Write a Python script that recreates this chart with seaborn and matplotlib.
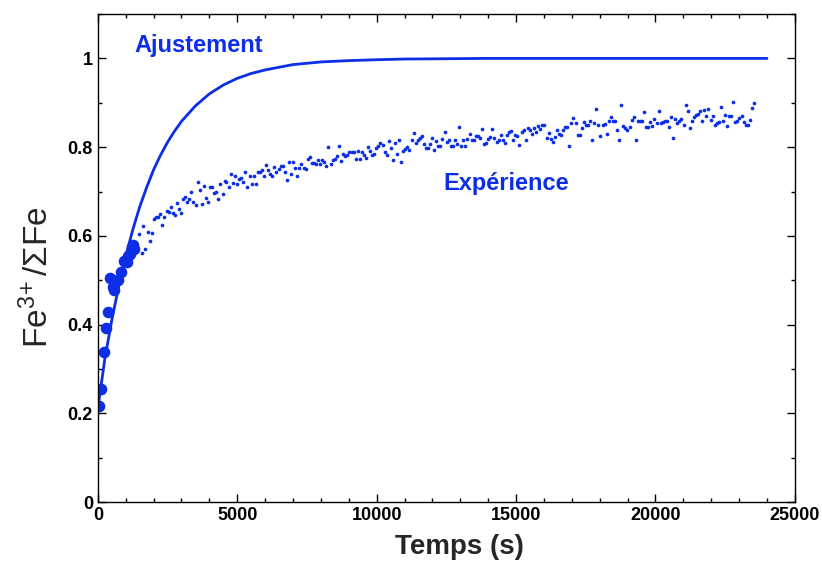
import matplotlib
matplotlib.use("Agg")
import matplotlib.pyplot as plt
from matplotlib.ticker import MultipleLocator
import seaborn as sns
import pandas as pd

# early measurements (large markers)
big_t = [50, 130, 230, 300, 370, 440, 560, 575, 730, 815, 945, 1030, 1100, 1150, 1210, 1260, 1300]
big_y = [0.217, 0.255, 0.338, 0.392, 0.429, 0.505, 0.485, 0.479, 0.50, 0.518, 0.543, 0.541,
         0.555, 0.56, 0.575, 0.579, 0.571]

# later measurements (small dots)
small_t = [1482, 1567, 1638, 1710, 1793, 1865, 1937, 2009, 2080, 2152, 2235, 2307, 2378, 2464,
           2536, 2607, 2679, 2751, 2834, 2905, 2977, 3060, 3131, 3203, 3275, 3347, 3418, 3504,
           3576, 3648, 3719, 3802, 3874, 3945, 4017, 4089, 4172, 4243, 4315, 4400, 4472, 4544,
           4615, 4687, 4770, 4842, 4914, 4986, 5057,
           5153, 5212, 5283, 5355, 5441, 5513, 5585, 5667, 5739, 5811, 5882, 5954, 6026, 6108,
           6180, 6252, 6324, 6395, 6481, 6553, 6625, 6707, 6779, 6851, 6923, 7005, 7077, 7149,
           7221, 7292, 7378, 7450, 7522, 7593, 7665, 7748, 7819, 7891, 7963, 8045, 8117, 8189,
           8260, 8346, 8418, 8490, 8562, 8633,
           8727, 8799, 8870, 8942, 9014, 9099, 9171, 9243, 9315, 9386, 9469, 9541, 9613, 9684,
           9756, 9839, 9910, 9982, 10054, 10126, 10211, 10283, 10355, 10427, 10499, 10581,
           10653, 10725, 10796, 10868, 10951, 11022, 11094, 11166, 11252, 11324, 11395, 11467,
           11539, 11621, 11693, 11765, 11836, 11908, 11991, 12063, 12134, 12206,
           12278, 12350, 12435, 12507, 12579, 12651, 12722, 12805, 12877, 12949, 13031, 13103,
           13175, 13246, 13332, 13404, 13475, 13547, 13619, 13702, 13773, 13845, 13917, 14000,
           14071, 14143, 14215, 14300, 14372, 14444, 14527, 14598, 14670, 14742, 14814, 14896,
           14968, 15040, 15112, 15197, 15269, 15341, 15413, 15495, 15567, 15638, 15710, 15793,
           15865, 15937, 16008, 16094, 16166, 16237, 16309, 16392, 16463, 16535, 16607, 16679,
           16761, 16833, 16905, 16977, 17049, 17134, 17206, 17278, 17349, 17421, 17504, 17575,
           17647, 17719, 17801, 17873, 17945, 18017, 18102, 18174, 18246, 18329, 18401, 18472,
           18544, 18616, 18699, 18771, 18843, 18915, 18987, 19071, 19143, 19215, 19286, 19358,
           19440, 19512, 19584, 19667, 19739, 19810,
           19882, 19953, 20039, 20111, 20182, 20254, 20337, 20409, 20481, 20552, 20635, 20707,
           20779, 20850, 20922, 21008, 21079, 21151, 21223, 21306, 21377, 21449, 21521, 21593,
           21675, 21747, 21819, 21891, 21976, 22048, 22120, 22191, 22263, 22346, 22418, 22489,
           22572, 22644, 22716, 22787, 22859, 22931, 23014, 23086, 23158, 23230, 23302, 23386,
           23458, 23529]
small_y = [0.604, 0.562, 0.623, 0.571, 0.608, 0.589, 0.607, 0.639, 0.643, 0.643, 0.650, 0.625,
           0.643, 0.656, 0.654, 0.665, 0.652, 0.646, 0.675, 0.661, 0.652, 0.682, 0.687, 0.676,
           0.682, 0.699, 0.676, 0.669, 0.721, 0.703, 0.671, 0.712, 0.686, 0.676, 0.710, 0.710,
           0.697, 0.699, 0.682, 0.716, 0.695, 0.724, 0.721, 0.710, 0.739, 0.719, 0.734, 0.718,
           0.729,
           0.731, 0.722, 0.743, 0.710, 0.734, 0.718, 0.735, 0.718, 0.745, 0.745, 0.749, 0.734,
           0.759, 0.748, 0.739, 0.735, 0.755, 0.745, 0.751, 0.758, 0.758, 0.745, 0.727, 0.766,
           0.739, 0.767, 0.754, 0.736, 0.752, 0.763, 0.754, 0.750, 0.773, 0.777, 0.764, 0.765,
           0.763, 0.770, 0.763, 0.770, 0.766, 0.757, 0.800, 0.763, 0.770, 0.773, 0.781, 0.802,
           0.768, 0.785, 0.781, 0.783, 0.788, 0.789, 0.789, 0.773, 0.791, 0.773, 0.788, 0.783,
           0.776, 0.801, 0.791, 0.783, 0.784, 0.797, 0.802, 0.809, 0.805, 0.788, 0.783, 0.814,
           0.797, 0.771, 0.809, 0.785, 0.817, 0.767, 0.792, 0.796, 0.800, 0.793, 0.817, 0.831,
           0.809, 0.815, 0.820, 0.824, 0.806, 0.797, 0.797, 0.807, 0.821, 0.794, 0.814, 0.802,
           0.802, 0.818, 0.835, 0.811, 0.815, 0.803, 0.803, 0.815, 0.807, 0.846, 0.802, 0.817,
           0.802, 0.819, 0.830, 0.815, 0.815, 0.824, 0.826, 0.820, 0.841, 0.808, 0.809, 0.819,
           0.823, 0.840, 0.820, 0.812, 0.817, 0.827, 0.815, 0.810, 0.827, 0.834, 0.837, 0.815,
           0.827, 0.826, 0.805, 0.833, 0.839, 0.817, 0.843, 0.839, 0.830, 0.844, 0.833, 0.848,
           0.841, 0.849, 0.851, 0.821, 0.831, 0.819, 0.812, 0.822, 0.839, 0.830, 0.828, 0.839,
           0.845, 0.845, 0.802, 0.854, 0.866, 0.855, 0.828, 0.828, 0.844, 0.857, 0.849, 0.851,
           0.860, 0.817, 0.854, 0.886, 0.849, 0.824, 0.851, 0.853, 0.830, 0.860, 0.867, 0.860,
           0.858, 0.838, 0.816, 0.895, 0.848, 0.842, 0.838, 0.845, 0.862, 0.869, 0.815, 0.858,
           0.860, 0.859, 0.880, 0.845, 0.845, 0.856,
           0.847, 0.864, 0.855, 0.881, 0.854, 0.857, 0.860, 0.860, 0.846, 0.867, 0.820, 0.863,
           0.854, 0.859, 0.863, 0.851, 0.894, 0.881, 0.842, 0.860, 0.869, 0.872, 0.875, 0.881,
           0.859, 0.884, 0.870, 0.887, 0.862, 0.870, 0.851, 0.854, 0.857, 0.891, 0.860, 0.872,
           0.848, 0.870, 0.870, 0.901, 0.857, 0.858, 0.866, 0.870, 0.857, 0.851, 0.851, 0.862,
           0.889, 0.899]

# fitted curve ("Ajustement")
fit_t = [0, 250, 500, 750, 1000, 1250, 1500, 1750, 2000, 2250, 2500, 2750, 3000, 3500, 4000,
         4500, 5000, 5500, 6000, 7000, 8000, 9000, 10000, 11000, 12000, 14000, 24000]
fit_y = [0.21, 0.322, 0.41, 0.486, 0.554, 0.613, 0.665, 0.709, 0.749, 0.782, 0.811, 0.836,
         0.858, 0.893, 0.920, 0.940, 0.955, 0.966, 0.974, 0.986, 0.992, 0.995, 0.997, 0.9986,
         0.999, 1.0, 1.0]

blue = "#0b2ee6"

sns.set_style("ticks")
plt.rcParams["font.family"] = ["Liberation Sans", "DejaVu Sans"]
plt.rcParams["mathtext.default"] = "regular"

fig = plt.figure(figsize=(8.22, 5.61), dpi=100)
ax = fig.add_axes([0.119, 0.105, 0.848, 0.870])

fit = pd.DataFrame({"t": fit_t, "y": fit_y})
sns.lineplot(data=fit, x="t", y="y", color=blue, linewidth=2.0, ax=ax)

small = pd.DataFrame({"t": small_t, "y": small_y})
sns.scatterplot(data=small, x="t", y="y", color=blue, s=7, linewidth=0, ax=ax)

big = pd.DataFrame({"t": big_t, "y": big_y})
sns.scatterplot(data=big, x="t", y="y", color=blue, s=70, linewidth=0, ax=ax)

ax.text(1330, 1.03, "Ajustement", color=blue, fontsize=17, fontweight="bold", va="center")
ax.text(12400, 0.718, "Expérience", color=blue, fontsize=17, fontweight="bold", va="center")

ax.set_xlim(0, 25000)
ax.set_ylim(0, 1.1)
ax.xaxis.set_major_locator(MultipleLocator(5000))
ax.xaxis.set_minor_locator(MultipleLocator(1000))
ax.yaxis.set_minor_locator(MultipleLocator(0.1))
ax.set_yticks([0, 0.2, 0.4, 0.6, 0.8, 1])
ax.set_yticklabels(["0", "0.2", "0.4", "0.6", "0.8", "1"])
ax.tick_params(which="both", direction="in", top=True, right=True, width=1, colors="black")
ax.tick_params(which="major", length=6, labelsize=13)
ax.tick_params(which="minor", length=3)
for lab in ax.get_xticklabels() + ax.get_yticklabels():
    lab.set_fontweight("bold")
for sp in ax.spines.values():
    sp.set_visible(True)
    sp.set_linewidth(1)
    sp.set_color("black")

ax.set_xlabel("Temps (s)", fontsize=20, fontweight="bold")
ax.xaxis.set_label_coords(0.519, -0.066)
ax.set_ylabel("Fe$^{3\\!+}$/ΣFe", fontsize=24)
ax.yaxis.set_label_coords(-0.062, 0.46)

fig.savefig("out.png", dpi=100)
